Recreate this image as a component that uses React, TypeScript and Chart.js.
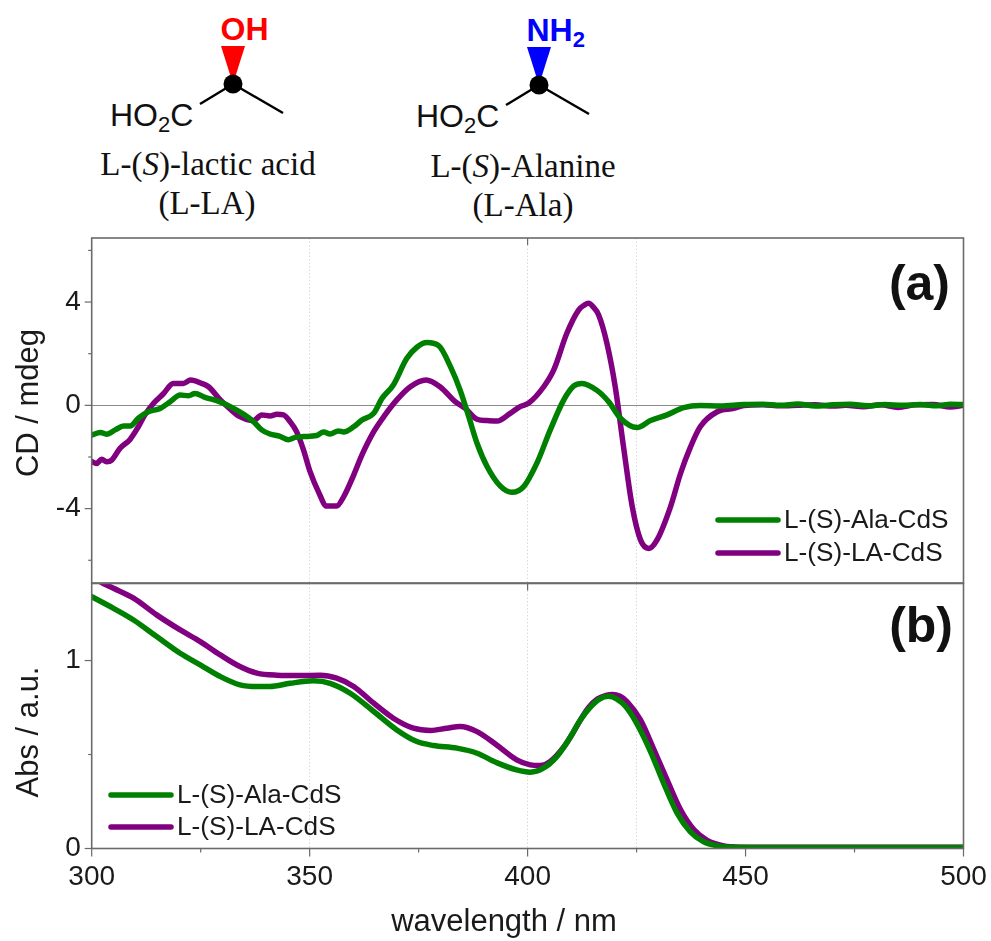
import React, { useEffect, useRef } from "react";
import { Chart, registerables } from "chart.js";

Chart.register(...registerables);

const cdAlaNm = [300,302,303.4,305.4,307.3,308.8,310.7,313,315.7,318,320.3,322.2,323.7,326,328.7,331.8,334.8,337.1,339,340.9,343.2,345.1,346.7,348.6,351.6,353.2,354.7,356.6,357.8,360.1,362,364.7,366.6,369.2,372.3,374.6,376.9,379.6,382.3,384.5,386.5,388.4,390.7,393.7,396.4,399.1,402.1,405.2,408.3,410.6,412.5,416,418.6,421.3,425.1,428.2,432,435.8,439.6,444.2,449.6,454,458,462,466,470,474,478,482,486,490,494,497,500];
const cdAlaVal = [-1.15,-1.05,-1.12,-0.95,-0.8,-0.8,-0.5,-0.25,-0.12,0.14,0.4,0.37,0.46,0.31,0.18,-0.05,-0.34,-0.63,-0.95,-1.11,-1.2,-1.33,-1.24,-1.21,-1.17,-1.03,-1.11,-0.99,-1.03,-0.83,-0.57,-0.31,0.27,0.79,1.82,2.25,2.43,2.31,1.5,0.6,-0.44,-1.47,-2.37,-3.12,-3.37,-3.15,-2.25,-0.95,0.21,0.75,0.85,0.57,0.14,-0.5,-0.86,-0.59,-0.37,-0.09,-0.01,-0.03,0.03,0.04,0.0,0.05,-0.03,0.02,0.04,-0.02,0.03,0.0,0.03,-0.02,0.04,0.03];
const cdLaNm = [300,301.1,302.3,303.4,304.6,306.5,308.8,310.7,312.2,314.2,316.5,318.7,321,322.7,325.2,326.8,329.5,331.8,334,337.1,339,340.9,342.5,344,345.5,347,348.6,350.1,352,353.9,356.2,357.8,360.1,362,364.7,367.3,370,373.1,376.7,379.9,383.4,385.7,388.4,390.7,393,396,398.3,400.2,403.7,406,409,411.7,413,414,415,416.3,418.2,420.1,422,424,425.9,427.8,429.7,432.8,435.1,437.4,439.6,443.5,447.3,449.6,454,458,462,466,470,473,477,481,485,489,493,497,500];
const cdLaVal = [-2.18,-2.25,-2.09,-2.18,-2.12,-1.66,-1.32,-0.83,-0.37,0.08,0.46,0.85,0.85,0.98,0.85,0.72,0.21,-0.15,-0.44,-0.59,-0.37,-0.41,-0.35,-0.37,-0.63,-1.02,-1.73,-2.57,-3.34,-3.9,-3.9,-3.54,-2.7,-1.92,-1.02,-0.37,0.21,0.72,0.98,0.72,0.14,-0.12,-0.54,-0.59,-0.61,-0.31,-0.05,0.08,0.72,1.37,2.79,3.69,3.88,3.95,3.82,3.5,2.4,0.72,-1.6,-3.92,-5.21,-5.54,-5.21,-3.92,-2.63,-1.6,-0.83,-0.25,-0.12,-0.01,0.02,-0.02,0.0,0.02,-0.03,0.0,-0.05,0.02,-0.08,0.02,0.03,-0.06,0.0];
const absAlaNm = [300,305,309.6,314.9,320.3,324.9,329.5,334,337.9,340.9,345.5,350.9,354.7,359.3,364.7,370,374.6,378.4,383.8,388.4,392.9,397.5,400.6,403.6,406.7,410,412,414.3,416.5,418.5,420.5,422.5,425,428.2,431.2,434.3,437.3,440.3,444,447.8,455,470,485,500];
const absAlaVal = [1.34,1.278,1.216,1.128,1.039,0.977,0.915,0.871,0.862,0.862,0.879,0.892,0.879,0.826,0.729,0.631,0.569,0.548,0.534,0.507,0.457,0.418,0.406,0.427,0.489,0.6,0.68,0.75,0.795,0.81,0.795,0.755,0.667,0.516,0.348,0.188,0.09,0.037,0.012,0.006,0.005,0.005,0.005,0.005];
const absLaNm = [300,302.7,305,309.6,314.9,320.3,324.9,329.5,334,337.9,342.5,347.8,352.4,356.2,360.1,364.7,369.2,373.8,377.7,381.5,384.5,388.4,392.9,397.5,400.6,402.9,405.2,408.3,410,412,414,416,418,419.5,421.2,422.8,425.9,429,432,435.1,438.2,441.2,445,448.9,455,470,485,500];
const absLaVal = [1.45,1.41,1.385,1.332,1.243,1.163,1.101,1.03,0.968,0.933,0.922,0.92,0.922,0.906,0.862,0.773,0.693,0.64,0.628,0.64,0.649,0.622,0.551,0.472,0.445,0.441,0.463,0.54,0.6,0.68,0.75,0.795,0.815,0.82,0.81,0.782,0.684,0.525,0.365,0.206,0.099,0.043,0.014,0.007,0.006,0.006,0.006,0.006];

const seriesAla = "L-(S)-Ala-CdS";
const seriesLa = "L-(S)-LA-CdS";
const xTicks = [300,325,350,375,400,425,450,475,500];
const xLabelled = [300,350,400,450,500];
const xFaintLines = [350,400,425];
const cdTicks = [-6,-4,-2,0,2,4,6];
const cdLabelled = [-4,0,4];
const absTicks = [0,0.5,1];
const absLabelled = [0,1];

const GREEN = "#008000";
const PURPLE = "#800080";
const AXIS = "#6a6a6a";
const INK = "#1a1a1a";
const SANS = "'Liberation Sans', Arial, sans-serif";
const SERIF = "'Liberation Serif', 'Times New Roman', serif";

const zip = (xs: number[], ys: number[]) => xs.map((x, i) => ({ x, y: ys[i] }));

function panelPlugin(o: any) {
  return {
    id: "panel",
    afterDatasetsDraw(chart: any) {
      const { ctx, chartArea: a, scales } = chart;
      ctx.save();
      ctx.strokeStyle = AXIS;
      ctx.lineWidth = 1.6;
      ctx.strokeRect(a.left, a.top, a.right - a.left, a.bottom - a.top);
      ctx.lineWidth = 1.2;
      for (const t of o.yTicks) {
        const y = scales.y.getPixelForValue(t);
        const len = o.yLabelled.includes(t) ? 7 : 3.5;
        ctx.beginPath();
        ctx.moveTo(a.left, y);
        ctx.lineTo(a.left - len, y);
        ctx.stroke();
      }
      if (o.xOutward) {
        for (const t of xTicks) {
          const x = scales.x.getPixelForValue(t);
          const len = xLabelled.includes(t) ? 8 : 4;
          ctx.beginPath();
          ctx.moveTo(x, a.bottom);
          ctx.lineTo(x, a.bottom + len);
          ctx.stroke();
        }
      }
      const x400 = scales.x.getPixelForValue(400);
      ctx.beginPath();
      ctx.moveTo(x400, a.top);
      ctx.lineTo(x400, a.top + 7);
      ctx.stroke();

      // legend
      ctx.font = `26.2px ${SANS}`;
      ctx.textBaseline = "middle";
      ctx.textAlign = "left";
      chart.data.datasets.forEach((d: any, i: number) => {
        const y = o.legendY[i];
        ctx.strokeStyle = d.borderColor;
        ctx.lineWidth = 5.5;
        ctx.lineCap = "round";
        ctx.beginPath();
        ctx.moveTo(o.legendX, y);
        ctx.lineTo(o.legendX + 60, y);
        ctx.stroke();
        ctx.fillStyle = INK;
        ctx.fillText(d.label, o.legendX + 66, y + 1);
      });

      // panel letter
      ctx.font = `bold 50px ${SANS}`;
      ctx.textAlign = "right";
      ctx.fillStyle = "#111";
      ctx.fillText(o.letter, o.letterX, o.letterY);

      // axis titles
      ctx.fillStyle = INK;
      ctx.font = `31px ${SANS}`;
      ctx.textAlign = "center";
      ctx.textBaseline = "alphabetic";
      ctx.save();
      ctx.translate(38, o.yTitleY);
      ctx.rotate(-Math.PI / 2);
      ctx.fillText(o.yTitle, 0, 0);
      ctx.restore();
      if (o.xTitle) ctx.fillText(o.xTitle, 504, 931);
      ctx.restore();
    },
  };
}

function makeChart(canvas: HTMLCanvasElement, o: any) {
  return new Chart(canvas, {
    type: "line",
    data: {
      datasets: [
        { label: seriesAla, data: zip(o.alaNm, o.alaVal), borderColor: GREEN },
        { label: seriesLa, data: zip(o.laNm, o.laVal), borderColor: PURPLE },
      ],
    },
    plugins: [panelPlugin(o)],
    options: {
      animation: false,
      responsive: false,
      parsing: false,
      layout: { padding: { left: 0, right: 991 - 963.5, top: o.top, bottom: o.bottom } },
      elements: {
        point: { radius: 0 },
        line: { borderWidth: 5.5, cubicInterpolationMode: "monotone", borderCapStyle: "round", borderJoinStyle: "round" },
      },
      plugins: { legend: { display: false }, title: { display: false }, tooltip: { enabled: false } },
      scales: {
        x: {
          type: "linear",
          min: 300,
          max: 500,
          afterBuildTicks: (s: any) => { s.ticks = xTicks.map((value) => ({ value })); },
          afterFit: (s: any) => { s.height = o.xHeight; s.paddingLeft = 0; s.paddingRight = 0; },
          ticks: {
            display: o.xOutward,
            autoSkip: false,
            maxRotation: 0,
            padding: 12,
            color: INK,
            font: { family: SANS, size: 28 },
            callback: (v: any) => (xLabelled.includes(v) ? String(v) : ""),
          },
          border: { display: false, dash: [1.5, 2] },
          grid: {
            drawTicks: false,
            lineWidth: 1,
            color: (c: any) => (xFaintLines.includes(c.tick?.value) ? "#d9d9d9" : "rgba(0,0,0,0)"),
          },
        },
        y: {
          type: "linear",
          min: o.yMin,
          max: o.yMax,
          afterBuildTicks: (s: any) => { s.ticks = o.yTicks.map((value: number) => ({ value })); },
          afterFit: (s: any) => { s.width = 91.7; s.paddingTop = 0; s.paddingBottom = 0; },
          ticks: {
            autoSkip: false,
            padding: 11,
            color: INK,
            font: { family: SANS, size: 28 },
            callback: (v: any) => (o.yLabelled.includes(v) ? String(v) : ""),
          },
          border: { display: false },
          grid: {
            drawTicks: false,
            lineWidth: 1,
            color: (c: any) => (o.zeroLine && c.tick?.value === 0 ? "#8a8a8a" : "rgba(0,0,0,0)"),
          },
        },
      },
    } as any,
  });
}

function Structure({ dx, dy, top, color, sub }: any) {
  return (
    <g transform={`translate(${dx} ${dy})`}>
      <polygon points="233,84 221,46 245,46" fill={color} />
      <circle cx={233} cy={84} r={9.5} fill="#000" />
      <line x1={233} y1={84} x2={283} y2={113} stroke="#000" strokeWidth={2.4} />
      <line x1={233} y1={84} x2={200} y2={104} stroke="#000" strokeWidth={2.4} />
      <text x={220.5} y={40} fill={color} fontFamily={SANS} fontWeight="bold" fontSize={32}>
        {top}
        {sub ? <tspan fontSize={22} dy={6}>{sub}</tspan> : null}
      </text>
      <text x={110} y={126} fill="#111" fontFamily={SANS} fontSize={32}>
        HO<tspan fontSize={22} dy={6}>2</tspan><tspan dy={-6}>C</tspan>
      </text>
    </g>
  );
}

export default function App() {
  const topRef = useRef<HTMLCanvasElement>(null);
  const botRef = useRef<HTMLCanvasElement>(null);

  useEffect(() => {
    const a = makeChart(topRef.current!, {
      alaNm: cdAlaNm, alaVal: cdAlaVal, laNm: cdLaNm, laVal: cdLaVal,
      top: 238, bottom: 358, xHeight: 0, xOutward: false,
      yMin: -6.88, yMax: 6.48, yTicks: cdTicks, yLabelled: cdLabelled, yTitle: "CD / mdeg", yTitleY: 403,
      zeroLine: true, legendX: 718, legendY: [520, 553], letter: "(a)", letterX: 950, letterY: 286,
    });
    const b = makeChart(botRef.current!, {
      alaNm: absAlaNm, alaVal: absAlaVal, laNm: absLaNm, laVal: absLaVal,
      top: 583.5, bottom: 0, xHeight: 92.5, xOutward: true,
      yMin: 0, yMax: 1.41, yTicks: absTicks, yLabelled: absLabelled, yTitle: "Abs / a.u.", yTitleY: 732,
      xTitle: "wavelength / nm",
      zeroLine: false, legendX: 111, legendY: [795, 827], letter: "(b)", letterX: 953, letterY: 628,
    });
    return () => { a.destroy(); b.destroy(); };
  }, []);

  const canvasStyle: React.CSSProperties = { position: "absolute", left: 0, top: 0 };
  return (
    <div style={{ position: "absolute", left: 0, top: 0, width: 991, height: 941, background: "#fff", overflow: "hidden" }}>
      <svg width={991} height={941} style={{ position: "absolute", left: 0, top: 0 }}>
        <Structure dx={0} dy={0} top="OH" color="#ff0000" />
        <Structure dx={306} dy={1} top="NH" sub="2" color="#0000ff" />
        <text x={208} y={175} textAnchor="middle" fontFamily={SERIF} fontSize={33} fill="#111">
          L-(<tspan fontStyle="italic">S</tspan>)-lactic acid
        </text>
        <text x={207} y={214} textAnchor="middle" fontFamily={SERIF} fontSize={33} fill="#111">(L-LA)</text>
        <text x={523} y={177} textAnchor="middle" fontFamily={SERIF} fontSize={33} fill="#111">
          L-(<tspan fontStyle="italic">S</tspan>)-Alanine
        </text>
        <text x={523} y={216} textAnchor="middle" fontFamily={SERIF} fontSize={33} fill="#111">(L-Ala)</text>
      </svg>
      <canvas ref={topRef} width={991} height={941} style={canvasStyle} />
      <canvas ref={botRef} width={991} height={941} style={canvasStyle} />
    </div>
  );
}
